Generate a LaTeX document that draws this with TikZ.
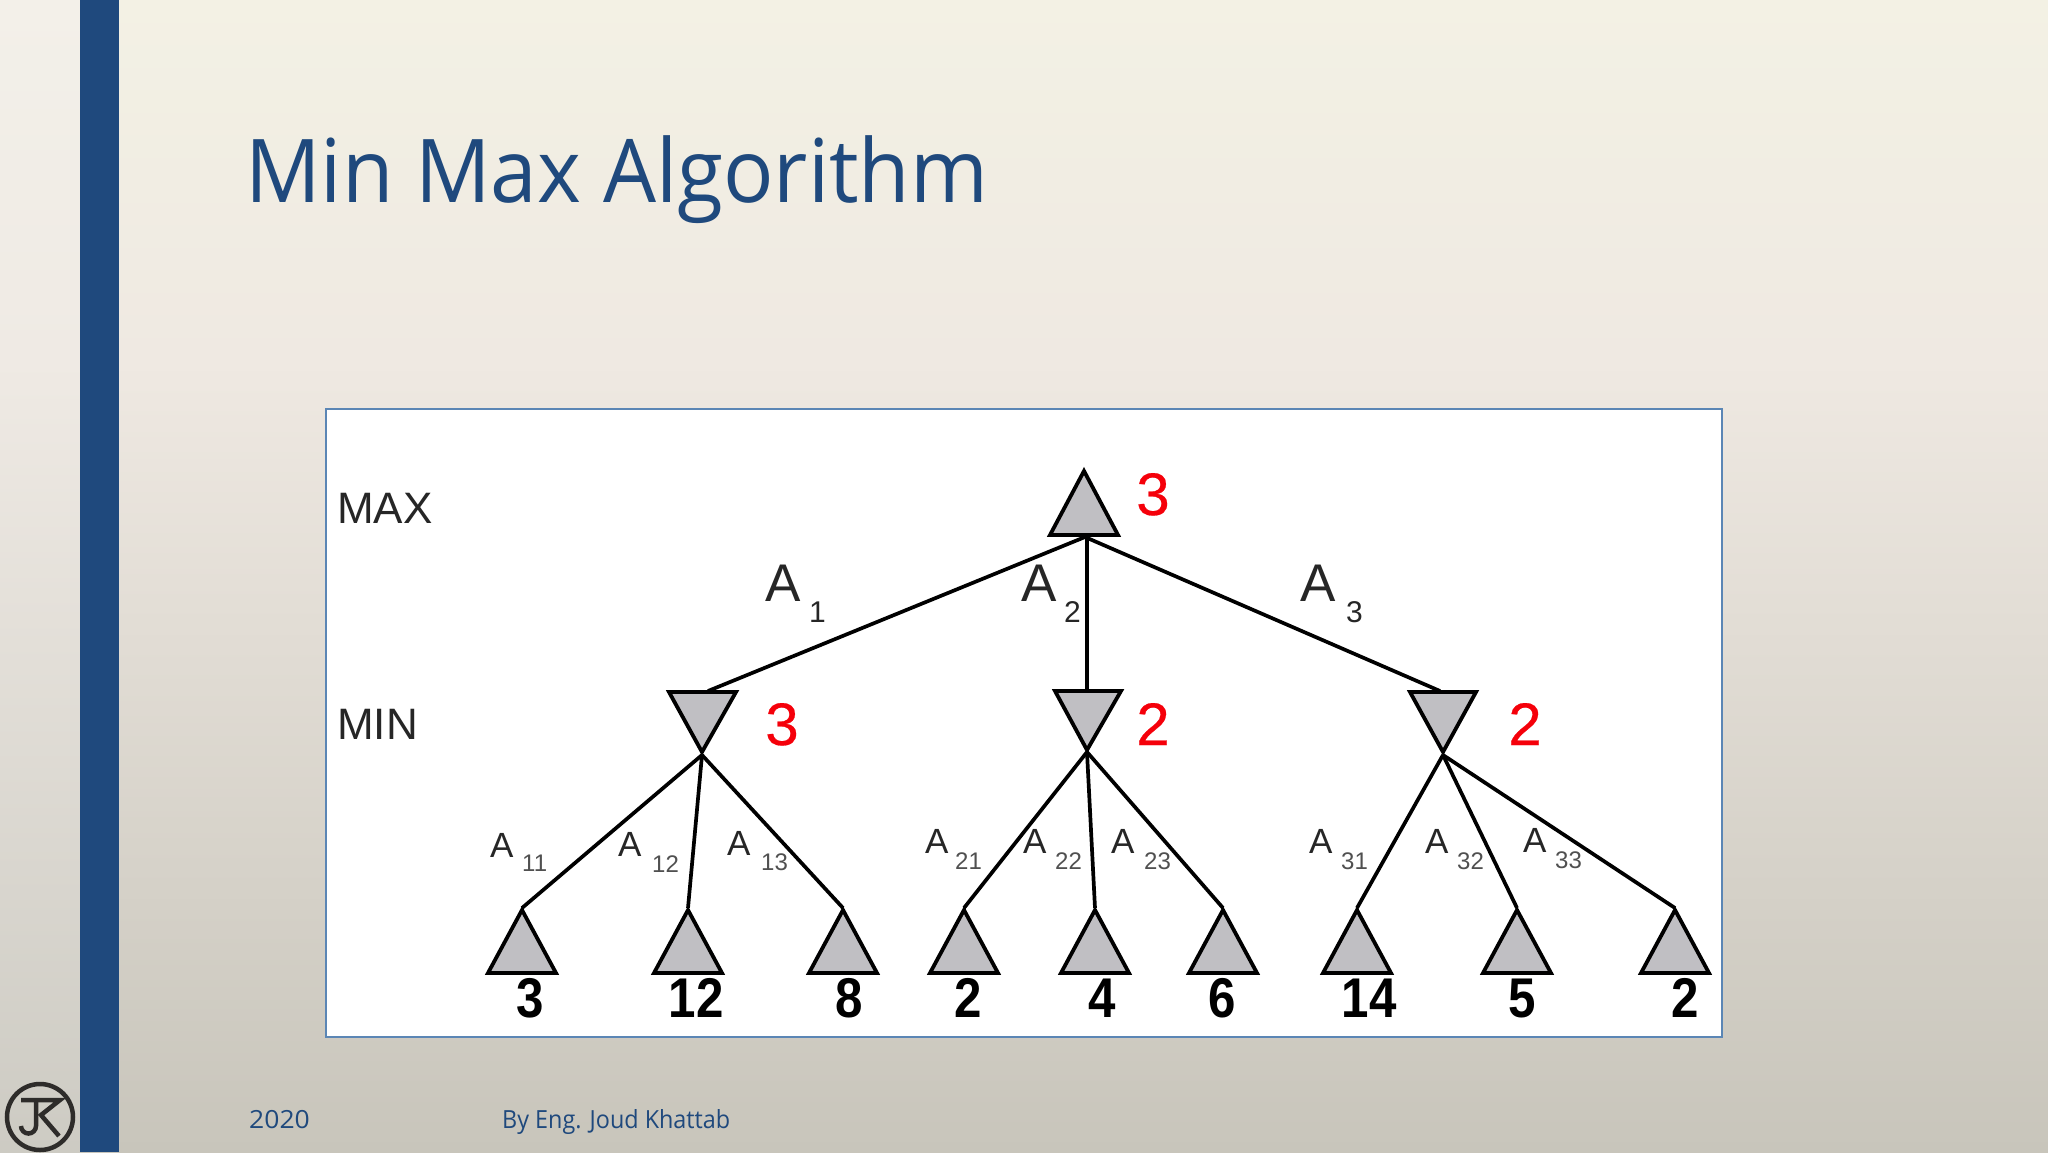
\documentclass[tikz,border=0pt]{standalone}
\usepackage{fontspec}
\usepackage{graphicx}
\setmainfont{Liberation Sans}
\newfontfamily\titlefont{Open Sans}
\newfontfamily\redfont[FakeBold=0.4]{Liberation Sans}
\definecolor{barblue}{HTML}{1F497D}
\definecolor{boxline}{HTML}{5B86B5}
\definecolor{trifill}{HTML}{C0BFC3}
\definecolor{redval}{HTML}{F5000A}
\definecolor{subgrey}{HTML}{505050}
\definecolor{logoink}{HTML}{2E2C2A}
\definecolor{bgtop}{HTML}{F3F1E4}
\definecolor{bgmid}{HTML}{EFE9E2}
\definecolor{bgbot}{HTML}{C8C5BB}
\definecolor{striptop}{HTML}{F3F0E9}
\definecolor{stripmid}{HTML}{EFEAE4}
\definecolor{stripbot}{HTML}{CDCBC3}
\tikzset{
  tri/.style={draw=black,fill=trifill,line width=3.8pt,line join=miter},
  edge/.style={draw=black,line width=3.7pt},
  lab/.style={inner sep=0pt,anchor=base west,text=black!85},
  big/.style={lab,font=\fontsize{44}{44}\selectfont},
  aone/.style={lab,font=\fontsize{53}{53}\selectfont},
  sone/.style={lab,font=\fontsize{30}{30}\selectfont},
  atwo/.style={lab,font=\fontsize{35}{35}\selectfont},
  stwo/.style={lab,font=\fontsize{24}{24}\selectfont,text=subgrey},
  redv/.style={inner sep=0pt,anchor=base,text=redval,font=\redfont\fontsize{60}{60}\selectfont},
  leafv/.style={inner sep=0pt,anchor=base,text=black,font=\bfseries\fontsize{56}{56}\selectfont},
  foot/.style={inner sep=0pt,anchor=base west,text=barblue,font=\titlefont\fontsize{25}{25}\selectfont},
}
\newcommand{\uptri}[3]{\path[tri] (#1,#2) -- (#1-34,#3) -- (#1+34,#3) -- cycle;}
\begin{document}
\begin{tikzpicture}[x=1pt,y=-1pt]
\useasboundingbox (0,0) rectangle (2048,1152);
\fill[top color=bgtop,bottom color=bgmid] (0,0) rectangle (2048,360);
\fill[top color=bgmid,bottom color=bgbot] (0,360) rectangle (2048,1152);
\fill[top color=striptop,bottom color=stripmid] (0,0) rectangle (80,360);
\fill[top color=stripmid,bottom color=stripbot] (0,360) rectangle (80,1152);
\fill[barblue] (80,0) rectangle (119,1152);
\node[inner sep=0pt,anchor=base west,text=barblue,font=\titlefont\fontsize{88}{88}\selectfont] (title) at (245,202) {\scalebox{.952}[1]{Min Max Algorithm}};
\node[foot] (year) at (249,1128) {\scalebox{1.06}[1]{2020}};
\node[foot] (author) at (502,1128) {\scalebox{.935}[1]{By Eng. Joud Khattab}};
% logo
\draw[logoink,line width=4.5pt] (40,1117) circle (33);
\draw[logoink,line width=4.5pt] (21,1100) -- (60,1100) -- (41,1115) -- (59,1136);
\draw[logoink,line width=4.5pt] (36,1100) -- (36,1126) arc (0:180:7.5);
% white panel
\draw[boxline,fill=white,line width=1.2pt] (326,409) rectangle (1722,1037);
% anchor points
\coordinate (root) at (1085,537);
\coordinate (rootv) at (1087,537);
\coordinate (m1t) at (708,691); \coordinate (m1a) at (702,755);
\coordinate (m2t) at (1087,691); \coordinate (m2a) at (1087,752);
\coordinate (m3t) at (1440,691); \coordinate (m3a) at (1443,755);
\foreach \n/\x in {l1/522,l2/688,l3/843,l4/964,l5/1095,l6/1223,l7/1357,l8/1517,l9/1675}{\coordinate (\n) at (\x,908);}
% edges
\draw[edge] (root) -- (m1t);
\draw[edge] (rootv) -- (m2t);
\draw[edge] (root) -- (m3t);
\foreach \m/\c in {m1a/l1,m1a/l2,m1a/l3,m2a/l4,m2a/l5,m2a/l6,m3a/l7,m3a/l8,m3a/l9}{\draw[edge] (\m) -- (\c);}
% triangles
\uptri{1084}{471}{535}
\path[tri] (669,692) -- (736,692) -- (702,752) -- cycle;
\path[tri] (1055,691) -- (1121,691) -- (1087,750) -- cycle;
\path[tri] (1410,692) -- (1476,692) -- (1443,752) -- cycle;
\foreach \x in {522,688,843,964,1095,1223,1357,1517,1675}{\uptri{\x}{910}{973}}
% labels
\node[big] (lmax) at (337,523) {MAX};
\node[big] (lmin) at (337,739) {MIN};
\node[aone] (a1) at (765,601) {A}; \node[sone] (s1) at (809,622) {1};
\node[aone] (a2) at (1021,601) {A}; \node[sone] (s2) at (1064,622) {2};
\node[aone] (a3) at (1300,601) {A}; \node[sone] (s3) at (1346,622) {3};
\foreach \nm/\ax/\ay/\sx/\sy/\txt in {
 a11/490/857/522/871/11, a12/618/856/652/872/12, a13/727/855/761/870/13,
 a21/925/853/955/869/21, a22/1023/853/1055/869/22, a23/1111/853/1144/869/23,
 a31/1309/853/1341/869/31, a32/1425/853/1457/869/32, a33/1523/852/1555/868/33}{
  \node[atwo] (\nm) at (\ax,\ay) {A};
  \node[stwo] (s\nm) at (\sx,\sy) {\txt};
}
\node[redv] (v0) at (1153,515) {3};
\node[redv] (v1) at (782,745) {3};
\node[redv] (v2) at (1153,745) {2};
\node[redv] (v3) at (1525,745) {2};
\foreach \nm/\x/\txt in {n1/530/3,n2/696/12,n3/849/8,n4/968/2,n5/1102/4,n6/1222/6,n7/1369/14,n8/1522/5,n9/1685/2}{
  \node[leafv] (\nm) at (\x,1017) {\scalebox{.88}[1]{\txt}};
}
\end{tikzpicture}
\end{document}
